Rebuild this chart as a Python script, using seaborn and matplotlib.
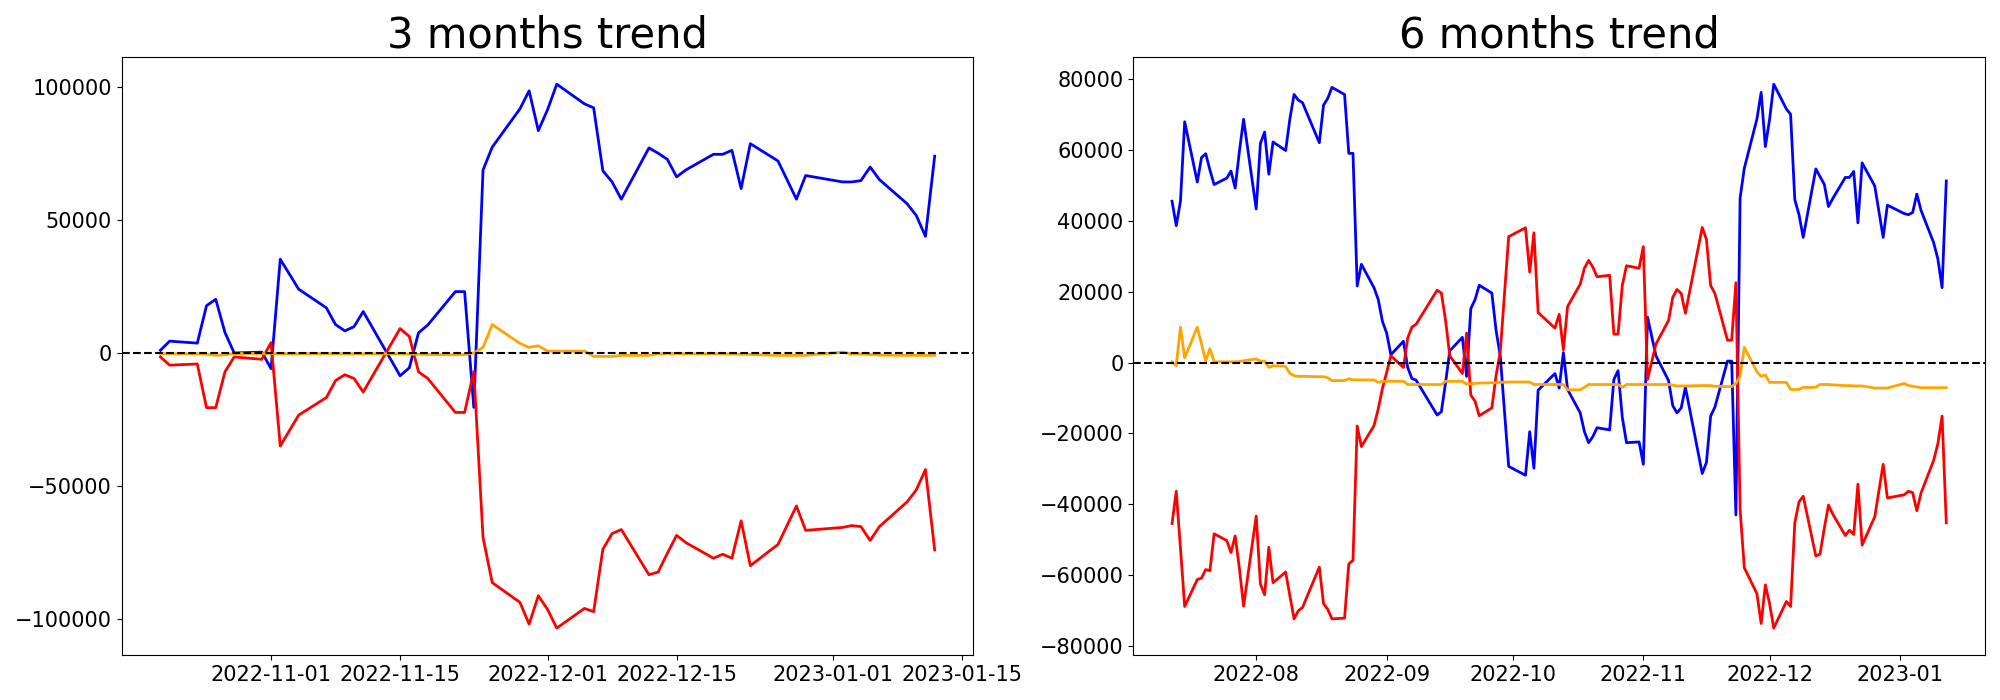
import pandas as pd
import matplotlib
matplotlib.use('Agg')
import matplotlib.pyplot as plt
import seaborn as sns

# 3 months window (trading days)
dates_3m = ['2022-10-20', '2022-10-21', '2022-10-24', '2022-10-25', '2022-10-26', '2022-10-27',
            '2022-10-28', '2022-10-31', '2022-11-01', '2022-11-02', '2022-11-04', '2022-11-07',
            '2022-11-08', '2022-11-09', '2022-11-10', '2022-11-11', '2022-11-15', '2022-11-16',
            '2022-11-17', '2022-11-18', '2022-11-21', '2022-11-22', '2022-11-23', '2022-11-24',
            '2022-11-25', '2022-11-28', '2022-11-29', '2022-11-30', '2022-12-01', '2022-12-02',
            '2022-12-05', '2022-12-06', '2022-12-07', '2022-12-08', '2022-12-09', '2022-12-12',
            '2022-12-13', '2022-12-14', '2022-12-15', '2022-12-16', '2022-12-19', '2022-12-20',
            '2022-12-21', '2022-12-22', '2022-12-23', '2022-12-26', '2022-12-28', '2022-12-29',
            '2023-01-02', '2023-01-03', '2023-01-04', '2023-01-05', '2023-01-06', '2023-01-09',
            '2023-01-10', '2023-01-11', '2023-01-12']

blue_3m = [1000, 4450, 3700, 17800, 20200, 7700, 0, 300,
           -5900, 35300, 24000, 17000, 10700, 8300, 9900, 15600,
           -8600, -5600, 7600, 10500, 23100, 23100, -20500, 68900, 77500, 91900, 98700, 83700,
           91600, 101200, 93800, 92300, 68600, 64400, 57900, 77200, 75200, 72900,
           66300, 68900, 74800, 74800, 76300, 61900, 78800, 72300, 57900, 66800,
           64400, 64400, 64900, 70000, 65300, 56200, 51800, 43900, 74100]

red_3m = [-1500, -4600, -4150, -20600, -20600, -7100, -1500, -2400,
          3900, -35000, -23400, -16800, -10400, -8200, -9600, -14700,
          9200, 6200, -7100, -9600, -22400, -22400, -7000, -69500, -86500, -93900, -102100, -91400,
          -96600, -103600, -96200, -97400, -73900, -68000, -66500, -83500, -82500, -75400,
          -68700, -71400, -77300, -75800, -77300, -63200, -80100, -72100, -57600, -66800,
          -65700, -65000, -65400, -70600, -65400, -56100, -51600, -43900, -74200]

orange_3m = [-200, -300, -300, -500, -900, -700, -200, -200,
             -200, -300, -300, -200, -300, -300, -300, -300,
             -300, -400, -500, -600, -700, -600, 0, 2100, 10700, 3600, 2100, 2700,
             700, 700, 700, -1300, -1300, -1300, -900, -900, -300, -200,
             -200, -300, -300, -300, -400, -500, -600, -900, -900, -900,
             300, -300, -400, -600, -800, -900, -900, -900, -900]

# 6 months window: earlier trading days, then the same days as above
dates_6m_head = ['2022-07-12', '2022-07-13', '2022-07-14', '2022-07-15', '2022-07-18', '2022-07-19',
                 '2022-07-20', '2022-07-21', '2022-07-22', '2022-07-25', '2022-07-26', '2022-07-27',
                 '2022-07-28', '2022-07-29',
                 '2022-08-01', '2022-08-02', '2022-08-03', '2022-08-04', '2022-08-05', '2022-08-08',
                 '2022-08-09', '2022-08-10', '2022-08-11', '2022-08-12', '2022-08-16', '2022-08-17',
                 '2022-08-18', '2022-08-19', '2022-08-22', '2022-08-23', '2022-08-24', '2022-08-25',
                 '2022-08-26', '2022-08-29', '2022-08-30', '2022-08-31',
                 '2022-09-01', '2022-09-02', '2022-09-05', '2022-09-06', '2022-09-07', '2022-09-08',
                 '2022-09-13', '2022-09-14', '2022-09-15', '2022-09-16', '2022-09-19', '2022-09-20',
                 '2022-09-21', '2022-09-22', '2022-09-23', '2022-09-26', '2022-09-27', '2022-09-28',
                 '2022-09-30',
                 '2022-10-04', '2022-10-05', '2022-10-06', '2022-10-07', '2022-10-11', '2022-10-12',
                 '2022-10-13', '2022-10-14', '2022-10-17', '2022-10-18', '2022-10-19']
dates_6m = dates_6m_head + dates_3m

blue_6m = [45500, 38600, 45500, 67900, 50900, 57800, 58900, 54300, 50200, 52000, 54000, 49200, 59500, 68600,
           43300, 61800, 65000, 53100, 62200, 59800, 68700, 75600, 74000, 73300, 62000, 72600,
           74500, 77600, 75600, 59000, 59000, 21600, 27700, 21100, 17800, 11600,
           8300, 2200, 6000, -1400, -4500, -5000, -14800, -13900, -5700, 3300, 7100, -3900,
           15200, 17700, 21800, 19600, 9100, 1900, -29300,
           -31800, -19500, -29800, -7800, -3100, -7200, 2800, -7600, -14200, -19500, -22600,
           -20900, -18400, -19000, -4800, -2300, -15400, -22600, -22400,
           -28700, 12800, 1900, -5100, -12200, -14200, -12800, -7000,
           -31300, -28200, -15100, -12600, 400, 400, -43000, 46400, 54800, 68700, 76200, 60900,
           68500, 78500, 71500, 70000, 45900, 41700, 35300, 54600, 52400, 50300,
           44000, 46200, 52200, 52200, 53900, 39400, 56300, 49800, 35300, 44400,
           42000, 41700, 42300, 47500, 42900, 33800, 29200, 21100, 51200]

red_6m = [-45400, -36300, -52400, -68800, -61200, -60800, -58400, -58700, -48300, -50200, -53600, -48900, -58000, -68700,
          -43300, -62500, -65500, -52100, -62100, -59100, -65800, -72300, -70000, -69100, -57700, -68000,
          -69600, -72300, -72100, -56800, -55800, -17900, -23700, -17800, -13100, -7300,
          -2800, 1900, -1400, 6900, 10000, 10800, 20400, 19600, 11900, 1900, -3100, 8300,
          -9200, -10900, -15000, -12800, -3700, 3000, 35500,
          38000, 25500, 36600, 14100, 9700, 13600, 3600, 15800, 22100, 26600, 28800,
          26900, 24200, 24600, 8000, 8000, 21700, 27300, 26600,
          32700, -4800, 5200, 11900, 18400, 20600, 19500, 13900,
          38100, 34700, 21700, 19500, 6300, 6300, 22500, -41500, -57900, -65200, -73600, -62700,
          -68000, -74900, -67400, -68800, -45200, -39300, -37700, -54600, -54000, -46800,
          -40200, -42700, -48800, -47300, -48500, -34300, -51500, -43500, -28700, -38200,
          -37300, -36300, -36700, -41800, -36800, -27600, -22900, -15100, -45200]

orange_6m = [200, -900, 10000, 1300, 10000, 5200, 400, 3900, 200, 200, 200, 200, 300, 500,
             1000, 400, 400, -1400, -900, -1100, -3100, -3700, -3900, -3900, -4000, -4000,
             -4300, -5100, -5100, -4600, -4900, -4900, -4900, -4900, -5600, -5300,
             -5300, -5300, -5300, -6200, -6200, -6200, -6200, -6200, -5300, -5300, -5300, -6100,
             -6000, -5900, -5800, -5700, -5700, -5600, -5500,
             -5500, -5500, -6200, -6200, -6200, -6200, -6200, -7700, -7700, -7000, -6200,
             -6200, -6200, -6200, -6200, -6200, -7000, -6200, -6200,
             -6200, -6200, -6200, -6200, -6400, -6600, -6600, -6600,
             -6500, -6500, -6500, -6700, -6800, -6800, -5900, -3900, 4300, -2600, -3900, -3500,
             -5600, -5600, -5600, -7600, -7600, -7600, -7000, -7000, -6200, -6200,
             -6200, -6300, -6500, -6500, -6600, -6600, -6600, -7200, -7200, -7200,
             -5900, -6500, -6700, -6900, -7100, -7100, -7100, -7100, -7100]

titles = ['3 months trend', '6 months trend']


def draw_panel(ax, dates, blue, red, orange, title):
    df = pd.DataFrame({'date': pd.to_datetime(dates), 'blue': blue, 'red': red, 'orange': orange})
    sns.lineplot(data=df, x='date', y='blue', color='blue', linewidth=2, ax=ax)
    sns.lineplot(data=df, x='date', y='red', color='red', linewidth=2, ax=ax)
    sns.lineplot(data=df, x='date', y='orange', color='orange', linewidth=2, ax=ax)
    ax.axhline(0, color='black', linestyle='--', linewidth=1.5)
    ax.set_title(title, fontsize=30)
    ax.set_xlabel('')
    ax.set_ylabel('')
    ax.tick_params(labelsize=15)


fig, axes = plt.subplots(1, 2, figsize=(20, 7))
draw_panel(axes[0], dates_3m, blue_3m, red_3m, orange_3m, titles[0])
draw_panel(axes[1], dates_6m, blue_6m, red_6m, orange_6m, titles[1])

plt.tight_layout()
fig.savefig('out.png', dpi=100)
